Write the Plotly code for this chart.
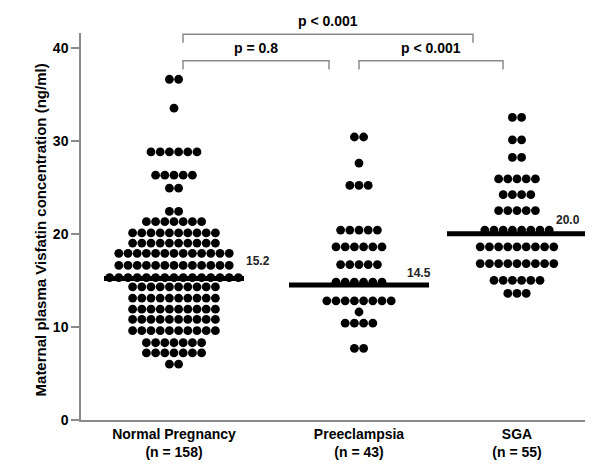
import plotly.graph_objects as go

# ---------------- data ----------------
groups = ["Normal Pregnancy", "Preeclampsia", "SGA"]
group_n = [158, 43, 55]
medians = [15.2, 14.5, 20.0]

# dot-plot rows: value of each row and number of dots in that row
normal_levels = [36.6, 33.5, 28.8, 26.3, 24.9, 22.4, 21.3, 20.1, 19.0, 17.9,
                 16.6, 15.3, 14.3, 13.1, 11.9, 10.8, 9.6, 8.3, 7.2, 6.0]
normal_counts = [2, 1, 6, 5, 2, 2, 7, 10, 10, 13,
                 13, 15, 10, 10, 10, 10, 10, 7, 7, 2]

pre_levels = [30.4, 27.6, 25.2, 20.4, 18.6, 16.7, 14.8, 12.8, 11.6, 10.4, 7.7]
pre_counts = [2, 1, 3, 5, 6, 5, 6, 8, 1, 4, 2]

sga_levels = [32.5, 30.1, 28.2, 25.9, 24.2, 22.5, 20.4, 18.6, 16.8, 15.0, 13.6]
sga_counts = [2, 2, 2, 5, 4, 5, 8, 9, 9, 6, 3]

comparisons = [  # (group a, group b, label, tier)
    (0, 2, "p < 0.001", 1),
    (0, 1, "p = 0.8", 0),
    (1, 2, "p < 0.001", 0),
]

# ---------------- layout helpers ----------------
centers = [93, 278, 436]          # category positions on a linear x axis
dot_step = 9.2                    # horizontal spacing of dots in a row
half_line = 70                    # half width of median bar
label_dx = [84, 60, 51]           # median label offsets
label_dy = [1.9, 1.3, 1.5]

all_levels = [normal_levels, pre_levels, sga_levels]
all_counts = [normal_counts, pre_counts, sga_counts]

FONT = "Arial, Liberation Sans, sans-serif"
GRAY = "#8a8a8a"

fig = go.Figure()

for gi, (lv, ct) in enumerate(zip(all_levels, all_counts)):
    xs, ys = [], []
    for v, k in zip(lv, ct):
        for i in range(k):
            xs.append(centers[gi] + (i - (k - 1) / 2) * dot_step)
            ys.append(v)
    fig.add_trace(go.Scatter(x=xs, y=ys, mode="markers",
                             marker=dict(size=8.8, color="black", line=dict(width=0)),
                             showlegend=False, hoverinfo="skip", cliponaxis=False))

for gi, m in enumerate(medians):
    fig.add_trace(go.Scatter(x=[centers[gi] - half_line, centers[gi] + half_line], y=[m, m],
                             mode="lines", line=dict(color="black", width=5),
                             showlegend=False, hoverinfo="skip"))
    fig.add_annotation(x=centers[gi] + label_dx[gi], y=m + label_dy[gi],
                       text=f"{m:.1f}", showarrow=False,
                       font=dict(family=FONT, size=12, color="#222", weight="bold"))

# comparison brackets (paper y)
tier_line = {1: 0.997, 0: 0.928}
tier_drop = 0.022
tier_text = {1: 1.03, 0: 0.962}
bracket_x = {(0, 2): (102, 392), (0, 1): (102, 248), (1, 2): (278, 422)}
for a, b, lab, tier in comparisons:
    x0, x1 = bracket_x[(a, b)]
    yl = tier_line[tier]
    fig.add_shape(type="path", xref="x", yref="paper",
                  path=f"M {x0},{yl - tier_drop} L {x0},{yl} L {x1},{yl} L {x1},{yl - tier_drop}",
                  line=dict(color=GRAY, width=1.5))
    fig.add_annotation(x=(x0 + x1) / 2, y=tier_text[tier], xref="x", yref="paper",
                       text=lab, showarrow=False, yanchor="middle",
                       font=dict(family=FONT, size=14, color="black", weight="bold"))

fig.add_annotation(x=-0.102, y=0.49, xref="paper", yref="paper",
                   text="Maternal plasma Visfatin concentration (ng/ml)",
                   textangle=-90, showarrow=False,
                   font=dict(family=FONT, size=15, color="black", weight="bold"))

fig.update_layout(
    width=592, height=465,
    margin=dict(l=73, r=15, t=25, b=53),
    paper_bgcolor="white", plot_bgcolor="white",
    xaxis=dict(range=[0, 504], showgrid=False, zeroline=False,
               showline=True, linecolor=GRAY, linewidth=1.5,
               tickvals=centers,
               ticktext=[f"{g}<br>(n = {n})" for g, n in zip(groups, group_n)],
               ticks="", tickfont=dict(family=FONT, size=14, color="black", weight="bold")),
    yaxis=dict(range=[0, 41.57], showgrid=False, zeroline=False,
               showline=True, linecolor=GRAY, linewidth=1.5,
               tickvals=[0, 10, 20, 30, 40], ticks="outside", ticklen=8,
               tickcolor=GRAY, tickwidth=1.5,
               tickfont=dict(family=FONT, size=14, color="black", weight="bold")),
)

fig.write_html("out.html")
